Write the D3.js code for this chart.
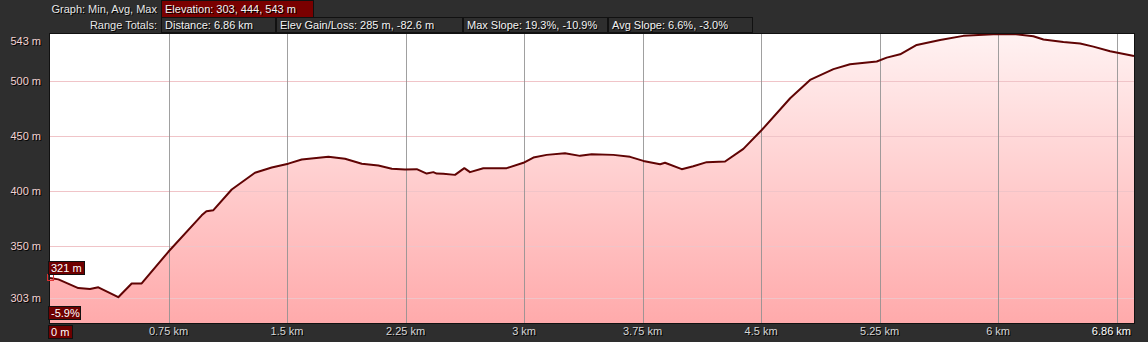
<!DOCTYPE html>
<html>
<head>
<meta charset="utf-8">
<script src="https://cdn.jsdelivr.net/npm/d3@7"></script>
<style>
  body { margin: 0; background: #2e2e2e; }
  svg { display: block; }
  text { font-family: "Liberation Sans", Arial, sans-serif; font-size: 11px; }
</style>
</head>
<body>
<div id="main"></div>
<script>
// distance along the track (km) and elevation (m)
var distKm = [0, 0.053, 0.179, 0.253, 0.306, 0.432, 0.517, 0.580, 0.749, 0.96, 0.99, 1.034,
    1.15, 1.297, 1.403, 1.508, 1.593, 1.762, 1.867, 1.973, 2.078, 2.163, 2.247, 2.321,
    2.384, 2.426, 2.447, 2.489, 2.563, 2.622, 2.658, 2.742, 2.89, 2.996, 3.059, 3.143,
    3.259, 3.354, 3.428, 3.565, 3.671, 3.755, 3.861, 3.892, 3.998, 4.071, 4.156, 4.272,
    4.388, 4.504, 4.684, 4.81, 4.958, 5.063, 5.232, 5.295, 5.38, 5.485, 5.633, 5.78,
    5.907, 5.97, 6.1, 6.223, 6.287, 6.413, 6.519, 6.603, 6.709, 6.86];
var elevM = [321, 319.7, 311.8, 311, 312.5, 303.5, 316, 316, 344.8, 378, 381.8, 382.7,
    401.5, 416.7, 421.5, 425, 428.8, 431.2, 429.4, 425, 423.3, 420.3, 419.7, 420,
    416, 417.3, 416, 415.8, 414.8, 420.9, 417.3, 420.9, 420.9, 425.8, 430.6, 433,
    434.5, 432.1, 433.6, 433, 431.2, 427.5, 424.5, 425.8, 420, 422.7, 426.4, 427,
    438.5, 455.6, 484.5, 501.2, 511, 515.5, 518, 521.5, 524.5, 533, 537.5, 541.3,
    542.3, 542.7, 543, 541, 538, 535.7, 534.3, 531.5, 527.3, 523];

var yTicks = [303, 350, 400, 450, 500, 543];
var xTicks = [0.75, 1.5, 2.25, 3, 3.75, 4.5, 5.25, 6, 6.75];
var xTickLabels = ["0.75 km", "1.5 km", "2.25 km", "3 km", "3.75 km", "4.5 km", "5.25 km", "6 km", ""];

var headerRow1 = ["Elevation: 303, 444, 543 m"];
var headerRow2 = ["Distance: 6.86 km", "Elev Gain/Loss: 285 m, -82.6 m", "Max Slope: 19.3%, -10.9%", "Avg Slope: 6.6%, -3.0%"];
var startElevLabel = "321 m";
var startSlopeLabel = "-5.9%";
var startDistLabel = "0 m";
var endDistLabel = "6.86 km";

var width = 1148, height = 342;
var plot = { left: 50, right: 1134, top: 34, bottom: 323 };

var svg = d3.select("#main")
    .append("svg")
    .attr("width", width)
    .attr("height", height);

var x = d3.scaleLinear().domain([0, 6.86]).range([plot.left, plot.right]);
var y = d3.scaleLinear().domain([280, 543]).range([plot.bottom, plot.top]);

// text with a 1px dark drop shadow
function shadowText(g, str, tx, ty, anchor, fill) {
    g.append("text").attr("x", tx + 1).attr("y", ty + 1)
        .attr("text-anchor", anchor).attr("fill", "#000").text(str);
    g.append("text").attr("x", tx).attr("y", ty)
        .attr("text-anchor", anchor).attr("fill", fill).text(str);
}

// header
var header = svg.append("g");
shadowText(header, "Graph: Min, Avg, Max", 157, 13, "end", "#e6e6e6");
shadowText(header, "Range Totals:", 157, 29, "end", "#e6e6e6");

header.append("rect")
    .attr("x", 161.5).attr("y", 0.5).attr("width", 152).attr("height", 17)
    .attr("fill", "#7a0000").attr("stroke", "#111");
shadowText(header, headerRow1[0], 165, 13, "start", "#f2f2f2");

var boxEdges = [161, 276, 463, 608, 753];
headerRow2.forEach(function (t, i) {
    header.append("rect")
        .attr("x", boxEdges[i] + 0.5).attr("y", 17.5)
        .attr("width", boxEdges[i + 1] - boxEdges[i] - 1).attr("height", 15)
        .attr("fill", "#2e2e2e").attr("stroke", "#111");
    shadowText(header, t, boxEdges[i] + 4, 29, "start", "#f2f2f2");
});

// plot background + gradient fill
var grad = svg.append("defs").append("linearGradient")
    .attr("id", "fillGrad")
    .attr("gradientUnits", "userSpaceOnUse")
    .attr("x1", 0).attr("y1", plot.top).attr("x2", 0).attr("y2", plot.bottom);
grad.append("stop").attr("offset", "0%").attr("stop-color", "#fff2f2");
grad.append("stop").attr("offset", "100%").attr("stop-color", "#ffaaab");

svg.append("rect")
    .attr("x", plot.left).attr("y", plot.top)
    .attr("width", plot.right - plot.left).attr("height", plot.bottom - plot.top)
    .attr("fill", "#fff");

var pts = distKm.map(function (d, i) { return [d, elevM[i]]; });

svg.append("path")
    .datum(pts)
    .attr("fill", "url(#fillGrad)")
    .attr("d", d3.area()
        .x(function (d) { return x(d[0]); })
        .y0(plot.bottom)
        .y1(function (d) { return y(d[1]); }));

// grid lines
svg.append("g").selectAll("line")
    .data(yTicks.filter(function (d) { return d !== 543; }))
    .enter().append("line")
    .attr("x1", plot.left).attr("x2", plot.right)
    .attr("y1", function (d) { return Math.round(y(d)) + 0.5; })
    .attr("y2", function (d) { return Math.round(y(d)) + 0.5; })
    .attr("stroke", "#f0c4c8").attr("stroke-width", 1);

svg.append("g").selectAll("line")
    .data(xTicks)
    .enter().append("line")
    .attr("x1", function (d) { return Math.round(x(d)) + 0.5; })
    .attr("x2", function (d) { return Math.round(x(d)) + 0.5; })
    .attr("y1", plot.top).attr("y2", plot.bottom)
    .attr("stroke", "#8f8f8f").attr("stroke-opacity", 0.85).attr("stroke-width", 1);

// profile line
svg.append("path")
    .datum(pts)
    .attr("fill", "none")
    .attr("stroke", "#600404")
    .attr("stroke-width", 2)
    .attr("stroke-linejoin", "round")
    .attr("d", d3.line()
        .x(function (d) { return x(d[0]); })
        .y(function (d) { return y(d[1]); }));

// plot border
svg.append("rect")
    .attr("x", plot.left - 0.5).attr("y", plot.top - 0.5)
    .attr("width", plot.right - plot.left + 1).attr("height", plot.bottom - plot.top + 1)
    .attr("fill", "none").attr("stroke", "#111");

// y axis labels
var yAxisG = svg.append("g");
yTicks.forEach(function (d) {
    var ty = d === 543 ? y(d) + 11 : y(d) + 4;
    shadowText(yAxisG, d + " m", 41, ty, "end", "#f3d2d2");
});

// x axis labels
var xAxisG = svg.append("g");
xTicks.forEach(function (d, i) {
    if (xTickLabels[i]) shadowText(xAxisG, xTickLabels[i], x(d), 335, "middle", "#d6d6d6");
});
shadowText(xAxisG, endDistLabel, 1131, 335, "end", "#ffffff");

// cursor marker + value boxes at the start
function valueBox(str, bx, by, bw) {
    svg.append("rect")
        .attr("x", bx + 0.5).attr("y", by + 0.5).attr("width", bw).attr("height", 13)
        .attr("fill", "#6e0000").attr("stroke", "#111");
    svg.append("text").attr("x", bx + 3).attr("y", by + 11)
        .attr("fill", "#fff").text(str);
}

svg.append("rect")
    .attr("x", x(0) - 2.5).attr("y", y(elevM[0]) - 3.5)
    .attr("width", 6).attr("height", 6)
    .attr("fill", "none").attr("stroke", "#e03030").attr("stroke-width", 1);

valueBox(startElevLabel, 48, 261, 36);
valueBox(startSlopeLabel, 48, 306, 32);
valueBox(startDistLabel, 48, 325, 24);
</script>
</body>
</html>
